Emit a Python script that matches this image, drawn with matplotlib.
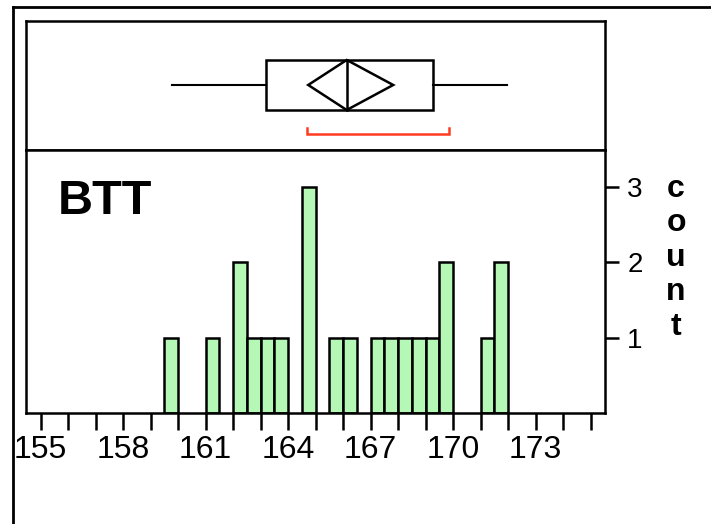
import matplotlib
matplotlib.use("Agg")
import matplotlib.pyplot as plt
from matplotlib.patches import Rectangle, Polygon
from matplotlib.lines import Line2D

# histogram bins (left edge, width 0.5) and counts
bin_left = [159.5, 161.0, 162.0, 162.5, 163.0, 163.5, 164.5, 165.5, 166.0,
            167.0, 167.5, 168.0, 168.5, 169.0, 169.5, 171.0, 171.5]
counts = [1, 1, 2, 1, 1, 1, 3, 1, 1, 1, 1, 1, 1, 1, 2, 1, 2]
bin_width = 0.5

# outlier box plot summary
whisker_lo, q1, median, q3, whisker_hi = 159.76, 163.19, 166.13, 169.28, 171.97
mean_diamond = (164.73, 166.13, 167.82)   # lower CI, centre, upper CI
shortest_half = (164.67, 169.86)

xticks_major = [155, 158, 161, 164, 167, 170, 173]
xticks_minor = list(range(155, 176))
yticks = [1, 2, 3]

W, H = 711, 524
fig = plt.figure(figsize=(W / 100, H / 100), dpi=100)

def fx(px):
    return px / W

def fy(py):
    return 1 - py / H

LW = 1.8
bar_color = "#b5f7b5"
red = "#ff3b1f"

# outer frame (runs off the right and bottom of the canvas)
fig.add_artist(Line2D([fx(13), fx(13)], [fy(7), fy(530)], color="black", lw=2.0))
fig.add_artist(Line2D([fx(13), fx(720)], [fy(7), fy(7)], color="black", lw=2.0))

xlim = (154.47, 175.52)

# --- box plot panel ---
axb = fig.add_axes([fx(26), fy(150), fx(605) - fx(26), fy(21) - fy(150)])
axb.set_xlim(*xlim)
axb.set_ylim(0, 1)
axb.set_xticks([])
axb.set_yticks([])
for s in axb.spines.values():
    s.set_linewidth(LW)

box_lo, box_hi, mid = 0.31, 0.698, 0.504
axb.plot([whisker_lo, q1], [mid, mid], color="black", lw=1.5)
axb.plot([q3, whisker_hi], [mid, mid], color="black", lw=1.5)
axb.add_patch(Rectangle((q1, box_lo), q3 - q1, box_hi - box_lo,
                        fill=False, ec="black", lw=LW, joinstyle="miter"))
lo, cen, hi = mean_diamond
axb.add_patch(Polygon([(lo, mid), (cen, box_hi), (hi, mid), (cen, box_lo)],
                      closed=True, fill=False, ec="black", lw=LW))
axb.plot([median, median], [box_lo, box_hi], color="black", lw=LW)

sh_lo, sh_hi = shortest_half
axb.plot([sh_lo, sh_lo, sh_hi, sh_hi], [0.174, 0.122, 0.122, 0.174],
         color=red, lw=1.8, solid_joinstyle="miter")

# --- histogram panel ---
ax = fig.add_axes([fx(26), fy(413), fx(605) - fx(26), fy(150) - fy(413)])
ax.bar(bin_left, counts, width=bin_width, align="edge",
       color=bar_color, edgecolor="black", linewidth=LW)
ax.set_xlim(*xlim)
ax.set_ylim(0, 3.49)
for s in ax.spines.values():
    s.set_linewidth(LW)

ax.set_xticks(xticks_major)
ax.set_xticks(xticks_minor, minor=True)
ax.set_xticklabels([str(t) for t in xticks_major],
                   fontfamily="Liberation Sans", fontsize=23)
ax.tick_params(axis="x", which="both", direction="out", length=12,
               width=LW, pad=4)

ax.yaxis.tick_right()
ax.set_yticks(yticks)
ax.set_yticklabels([str(t) for t in yticks],
                   fontfamily="Liberation Sans", fontsize=20)
ax.tick_params(axis="y", direction="out", length=10, width=LW, pad=6)

fig.text(fx(57.5), fy(214), "BTT", fontfamily="Liberation Sans",
         fontweight="bold", fontsize=35, ha="left", va="baseline")

# stacked axis title on the right
for ch, base in zip("count", [197, 231.5, 266, 300.5, 335]):
    fig.text(fx(676), fy(base), ch, fontfamily="Liberation Sans",
             fontweight="bold", fontsize=23, ha="center", va="baseline")

fig.savefig("out.png", dpi=100)
